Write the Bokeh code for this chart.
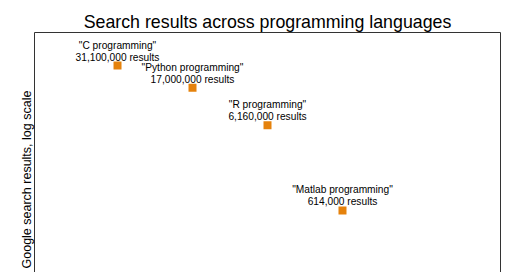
from bokeh.plotting import figure
from bokeh.models import LinearAxis, LogAxis, FixedTicker, ColumnDataSource, Range1d, LabelSet, Title
from bokeh.core.properties import value
from bokeh.embed import file_html
from bokeh.resources import INLINE

languages = ['"C programming"', '"Python programming"', '"R programming"', '"Matlab programming"']
results = [31100000, 17000000, 6160000, 614000]
result_labels = ["31,100,000 results", "17,000,000 results", "6,160,000 results", "614,000 results"]
positions = [1, 2, 3, 4]

FONT = "Liberation Sans"

p = figure(width=520, height=272, output_backend="svg", toolbar_location=None,
           y_axis_type="log", x_range=Range1d(-0.107, 6.107), y_range=Range1d(1.146e5, 7.6e7),
           x_axis_location=None, y_axis_location=None,
           min_border_left=34, min_border_right=20, min_border_top=32, min_border_bottom=0)
p.outline_line_color = None
p.xgrid.visible = False
p.ygrid.visible = False
p.background_fill_color = "white"
p.border_fill_color = "white"

def frame_axis(ax):
    ax.ticker = FixedTicker(ticks=[])
    ax.major_tick_line_color = None
    ax.minor_tick_line_color = None
    ax.major_label_text_font_size = "0px"
    ax.major_label_standoff = 0
    ax.major_tick_out = 0
    ax.axis_line_color = "#333333"
    ax.axis_line_width = 1
    return ax

p.add_layout(frame_axis(LogAxis()), "left")
p.add_layout(frame_axis(LogAxis()), "right")
p.add_layout(frame_axis(LinearAxis()), "above")

p.add_layout(Title(text="Search results across programming languages", align="center",
                   text_font=FONT, text_font_size="17.8px", text_font_style="normal",
                   text_color="black", standoff=2), "above")
p.add_layout(Title(text="Google search results, log scale", align="left", offset=4,
                   text_font=FONT, text_font_size="12.5px", text_font_style="normal",
                   text_color="black", standoff=2), "left")

src = ColumnDataSource(dict(x=positions, y=results, lang=languages, res=result_labels))
p.scatter("x", "y", source=src, marker="square", size=8, fill_color="#E5820C", line_color=None)

p.add_layout(LabelSet(x="x", y="y", text="res", source=src, x_offset=0, y_offset=3,
                      text_align="center", text_baseline="bottom",
                      text_font=value(FONT), text_font_size="10.2px", text_color="black"))
p.add_layout(LabelSet(x="x", y="y", text="lang", source=src, x_offset=0, y_offset=15,
                      text_align="center", text_baseline="bottom",
                      text_font=value(FONT), text_font_size="10.2px", text_color="black"))

open("out.html", "w").write(file_html(p, INLINE))
